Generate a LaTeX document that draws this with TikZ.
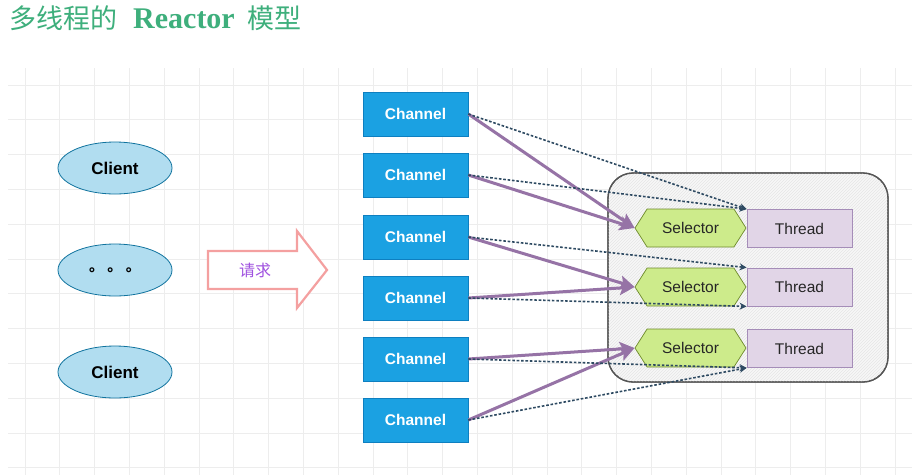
\documentclass[tikz,border=0pt]{standalone}
\usepackage{fontspec}
\setmainfont{Liberation Sans}
\newfontfamily\cjk{Noto Sans CJK SC}
\newfontfamily\titleserif{Liberation Serif}
\usetikzlibrary{shapes.geometric,shapes.symbols,arrows.meta,patterns}
\definecolor{titlegreen}{HTML}{3EAF7C}
\definecolor{gridgray}{HTML}{EDEDED}
\definecolor{clientfill}{HTML}{B1DDF0}
\definecolor{clientdraw}{HTML}{10739E}
\definecolor{chanfill}{HTML}{1BA1E2}
\definecolor{chandraw}{HTML}{0E7FC0}
\definecolor{selfill}{HTML}{CDEB8B}
\definecolor{seldraw}{HTML}{6D8A2B}
\definecolor{thrfill}{HTML}{E1D5E7}
\definecolor{thrdraw}{HTML}{A58DB8}
\definecolor{purplearrow}{HTML}{9673A6}
\definecolor{dashcol}{HTML}{2E4A62}
\definecolor{reqpink}{HTML}{F4A0A0}
\definecolor{reqtext}{HTML}{A052E0}
\definecolor{pooldraw}{HTML}{555555}
\tikzset{
  gridline/.style={draw=gridgray, line width=0.8pt},
  client/.style={ellipse, draw=clientdraw, fill=clientfill, line width=0.8pt,
    minimum width=114pt, minimum height=52pt, inner sep=0pt,
    font=\fontsize{17}{20}\selectfont\bfseries},
  channel/.style={rectangle, draw=chandraw, fill=chanfill, line width=0.6pt,
    minimum width=105pt, minimum height=44pt, inner sep=0pt, text=white,
    font=\fontsize{15.5}{18}\selectfont\bfseries},
  selector/.style={signal, signal to=west and east, signal pointer angle=115,
    draw=seldraw, fill=selfill, line width=0.7pt,
    minimum width=111pt, minimum height=38pt, inner sep=0pt, text=black!85,
    font=\fontsize{15.5}{18}\selectfont},
  thread/.style={rectangle, draw=thrdraw, fill=thrfill, line width=0.8pt,
    minimum width=105pt, minimum height=38pt, inner sep=0pt, text=black!85,
    font=\fontsize{15.5}{18}\selectfont},
  pool/.style={rectangle, rounded corners=25pt, draw=pooldraw, line width=1.3pt,
    fill=black!3, minimum width=280pt, minimum height=209pt, inner sep=0pt},
  feed/.style={draw=purplearrow, line width=3pt,
    -{Stealth[length=15pt,width=14pt,inset=3pt]}},
  notify/.style={draw=dashcol, line width=1.6pt, dash pattern=on 2.6pt off 1.8pt,
    -{Stealth[length=7pt,width=7pt]}},
  reqarrow/.style={draw=reqpink, line width=2.2pt, fill=white, line join=miter},
}
\begin{document}
\begin{tikzpicture}[x=1pt,y=-1pt]
\useasboundingbox (0,0) rectangle (916,475);
\fill[white] (0,0) rectangle (916,475);

% title
\node[anchor=west, text=titlegreen, inner sep=0pt,
  font=\fontsize{27}{30}\selectfont] (title) at (9,18)
  {{\cjk 多线程的}\hspace{16pt}{\titleserif\bfseries\fontsize{30}{32}\selectfont Reactor}\hspace{13pt}{\cjk 模型}};

% grid
\foreach \i in {0,...,25} {
  \draw[gridline] ({25+34.8*\i},68) -- ({25+34.8*\i},475);
}
\foreach \j in {0,...,11} {
  \draw[gridline] (8,{85+34.8*\j}) -- (912,{85+34.8*\j});
}

% container
\node[pool] (pool) at (748,277.5) {};
\begin{scope}
  \clip[rounded corners=25pt] (608,173) rectangle (888,382);
  \fill[pattern=north east lines, pattern color=black!10] (608,173) rectangle (888,382);
\end{scope}
\draw[draw=pooldraw, line width=1.3pt, rounded corners=25pt] (608,173) rectangle (888,382);

% clients
\node[client] (cl1) at (115,168) {Client};
\node[client] (cl2) at (115,270) {\raisebox{-2pt}{\cjk\bfseries\fontsize{15}{18}\selectfont 。 。 。}};
\node[client] (cl3) at (115,372) {Client};

% request arrow
\draw[reqarrow] (208,251) -- (297,251) -- (297,231) -- (327,270) -- (297,308) -- (297,289) -- (208,289) -- cycle;
\node[text=reqtext, font=\cjk\fontsize{16}{18}\selectfont] (req) at (255,270) {请求};

% channels
\node[channel] (c1) at (415.5,114) {Channel};
\node[channel] (c2) at (415.5,175) {Channel};
\node[channel] (c3) at (415.5,237) {Channel};
\node[channel] (c4) at (415.5,298) {Channel};
\node[channel] (c5) at (415.5,359) {Channel};
\node[channel] (c6) at (415.5,420) {Channel};

% selectors and threads
\node[selector] (s1) at (690.5,228) {Selector};
\node[selector] (s2) at (690.5,287) {Selector};
\node[selector] (s3) at (690.5,348) {Selector};
\node[thread] (t1) at (799.5,228.5) {Thread};
\node[thread] (t2) at (799.5,287) {Thread};
\node[thread] (t3) at (799.5,348.5) {Thread};

% connectors
\draw[feed] (c1.east) -- (s1.west);
\draw[feed] (c2.east) -- (s1.west);
\draw[feed] (c3.east) -- (s2.west);
\draw[feed] (c4.east) -- (s2.west);
\draw[feed] (c5.east) -- (s3.west);
\draw[feed] (c6.east) -- (s3.west);

\draw[notify] (c1.east) -- (t1.north west);
\draw[notify] (c2.east) -- (t1.north west);
\draw[notify] (c3.east) -- (t2.north west);
\draw[notify] (c4.east) -- (t2.south west);
\draw[notify] (c5.east) -- (t3.south west);
\draw[notify] (c6.east) -- (t3.south west);
\end{tikzpicture}
\end{document}
